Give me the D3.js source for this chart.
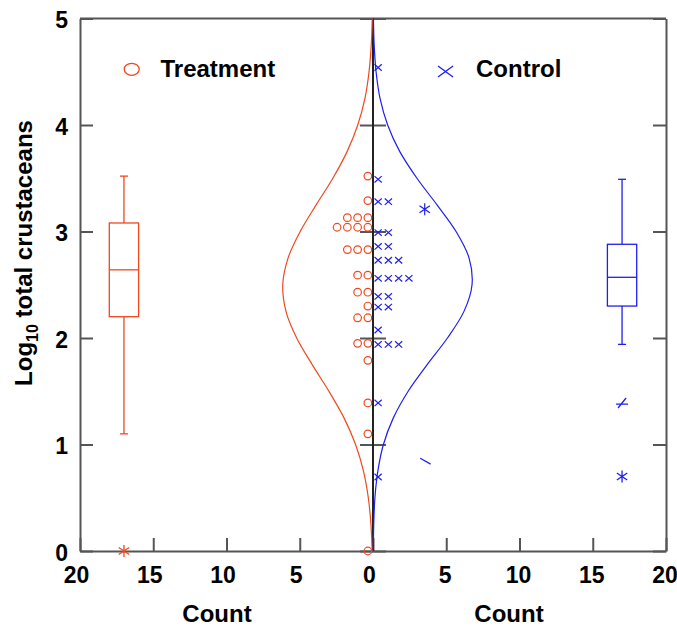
<!DOCTYPE html>
<html>
<head>
<meta charset="utf-8">
<script src="https://cdn.jsdelivr.net/npm/d3@7"></script>
<style>
  body { margin: 0; background: #fff; }
  svg { display: block; font-family: "Liberation Sans", Arial, sans-serif; font-weight: bold; }
</style>
</head>
<body>
<div id="chart"></div>
<script>

/* Data */
/* ==== */

// dot rows: log10 value and number of samples in that row
var treatmentValues = [3.52, 3.29, 3.13, 3.04, 2.83, 2.59, 2.43, 2.30, 2.19, 1.95, 1.79, 1.39, 1.10, 0];
var treatmentCounts = [1, 1, 3, 4, 3, 2, 2, 1, 2, 2, 1, 1, 1, 1];

var controlValues = [4.54, 3.49, 3.28, 2.99, 2.86, 2.73, 2.56, 2.39, 2.29, 2.075, 1.94, 1.39, 0.695];
var controlCounts = [1, 1, 2, 2, 2, 3, 4, 2, 2, 1, 3, 1, 1];

// fitted curves (count at each level)
var curveLevels    = [0, 0.25, 0.5, 0.75, 1, 1.25, 1.5, 1.75, 2, 2.25, 2.5, 2.75, 3, 3.25, 3.5, 3.75, 4, 4.25, 4.5, 4.75, 5];
var treatmentCurve = [0.06, 0.14, 0.32, 0.65, 1.19, 1.98, 3.01, 4.15, 5.21, 5.94, 6.16, 5.80, 4.97, 3.88, 2.74, 1.77, 1.04, 0.55, 0.27, 0.12, 0.05];
var controlCurve   = [0.02, 0.05, 0.13, 0.33, 0.71, 1.39, 2.40, 3.70, 5.08, 6.21, 6.76, 6.56, 5.67, 4.37, 3.00, 1.83, 1.00, 0.48, 0.21, 0.08, 0.03];

// box plots: [low whisker, q1, median, q3, high whisker]
var treatmentBox = [1.10, 2.20, 2.64, 3.08, 3.52];
var controlBox   = [1.94, 2.30, 2.57, 2.88, 3.49];
var treatmentOutliers = [0];
var controlOutliers   = [1.38, 0.70];

// stray marks on the control side: [count, value]
var strayStar = [3.53, 3.21];
var strayDash = [3.58, 0.843];

var leftTicks  = [20, 15, 10, 5, 0];
var rightTicks = [5, 10, 15, 20];
var yTicks     = [0, 1, 2, 3, 4, 5];


/* Set-up */
/* ====== */

var width = 677,
    height = 630,
    plotLeft = 80,
    plotRight = 666,
    plotTop = 18.5,
    plotBottom = 551,
    mid = (plotLeft + plotRight) / 2;

var red = '#f0481e',
    blue = '#1e1ef0',
    frameColour = '#555';

var boxAt = 17,       // count position of the box plots
    boxHalf = 1,      // half box width in counts
    dotStart = 0.35,  // first marker offset in counts
    dotStep = 0.7;    // spacing between markers in counts

var svg = d3.select('#chart').append('svg')
    .attr('width', width)
    .attr('height', height);

var xLeft = d3.scaleLinear().domain([0, 20]).range([mid, plotLeft]);
var xRight = d3.scaleLinear().domain([0, 20]).range([mid, plotRight]);
var y = d3.scaleLinear().domain([0, 5]).range([plotBottom, plotTop]);

var starPath = 'M0,-6V6M-5.2,-3.5L5.2,3.5M-5.2,3.5L5.2,-3.5';
var crossPath = 'M-3.6,-3.2L3.6,3.2M-3.6,3.2L3.6,-3.2';


/* Frame and axes */
/* ============== */

svg.append('line')
    .attr('x1', plotLeft).attr('x2', plotRight)
    .attr('y1', plotTop).attr('y2', plotTop)
    .attr('stroke', frameColour).attr('stroke-width', 2);

function styleAxis(g) {
  g.selectAll('path, line').attr('stroke', frameColour).attr('stroke-width', 2);
  g.selectAll('text')
    .attr('fill', '#000')
    .style('font-size', '23px')
    .style('font-weight', 'bold')
    .style('font-family', '"Liberation Sans", Arial, sans-serif');
}

var xAxisLeft = svg.append('g')
    .attr('transform', 'translate(0,' + plotBottom + ')')
    .call(d3.axisBottom(xLeft).tickValues(leftTicks).tickSizeInner(-13).tickSizeOuter(0).tickPadding(16))
    .call(styleAxis);
xAxisLeft.selectAll('text').attr('dx', -4);

var xAxisRight = svg.append('g')
    .attr('transform', 'translate(0,' + plotBottom + ')')
    .call(d3.axisBottom(xRight).tickValues(rightTicks).tickSizeInner(-13).tickSizeOuter(0).tickPadding(16))
    .call(styleAxis);
xAxisRight.selectAll('text').attr('dx', -1.5);

var yAxis = svg.append('g')
    .attr('transform', 'translate(' + plotLeft + ',0)')
    .call(d3.axisLeft(y).tickValues(yTicks).tickFormat(d3.format('d')).tickSizeInner(-13).tickSizeOuter(0).tickPadding(12))
    .call(styleAxis);
yAxis.selectAll('text').attr('dy', '0.4em');

svg.append('g')
    .attr('transform', 'translate(' + plotRight + ',0)')
    .call(d3.axisRight(y).tickValues(yTicks).tickFormat('').tickSizeInner(-13).tickSizeOuter(0))
    .call(styleAxis);

// centre line with ticks on both sides
var centre = svg.append('g').attr('transform', 'translate(' + mid + ',0)');
centre.append('g')
    .call(d3.axisLeft(y).tickValues(yTicks).tickFormat('').tickSizeInner(13).tickSizeOuter(0))
    .call(styleAxis);
centre.append('g')
    .call(d3.axisRight(y).tickValues(yTicks).tickFormat('').tickSizeInner(13).tickSizeOuter(0))
    .call(styleAxis);
centre.selectAll('.domain').remove();

svg.append('line')
    .attr('x1', mid).attr('x2', mid)
    .attr('y1', plotTop).attr('y2', plotBottom)
    .attr('stroke', '#222').attr('stroke-width', 2);


/* Fitted curves */
/* ============= */

var leftLine = d3.line()
    .x(function(d, i) { return xLeft(treatmentCurve[i]); })
    .y(function(d) { return y(d); })
    .curve(d3.curveCatmullRom);

var rightLine = d3.line()
    .x(function(d, i) { return xRight(controlCurve[i]); })
    .y(function(d) { return y(d); })
    .curve(d3.curveCatmullRom);

svg.append('path')
    .attr('d', leftLine(curveLevels))
    .attr('fill', 'none').attr('stroke', red).attr('stroke-width', 1.2);

svg.append('path')
    .attr('d', rightLine(curveLevels))
    .attr('fill', 'none').attr('stroke', blue).attr('stroke-width', 1.2);


/* Dot rows */
/* ======== */

var treatmentDots = [];
treatmentValues.forEach(function(v, i) {
  for (var j = 0; j < treatmentCounts[i]; j++) treatmentDots.push([dotStart + j * dotStep, v]);
});

var controlDots = [];
controlValues.forEach(function(v, i) {
  for (var j = 0; j < controlCounts[i]; j++) controlDots.push([dotStart + j * dotStep, v]);
});

svg.append('g').selectAll('circle')
    .data(treatmentDots)
    .enter().append('circle')
      .attr('cx', function(d) { return xLeft(d[0]); })
      .attr('cy', function(d) { return y(d[1]); })
      .attr('r', 3.8)
      .attr('fill', 'none')
      .attr('stroke', red)
      .attr('stroke-width', 1.2);

svg.append('g').selectAll('path')
    .data(controlDots)
    .enter().append('path')
      .attr('transform', function(d) { return 'translate(' + xRight(d[0]) + ',' + y(d[1]) + ')'; })
      .attr('d', crossPath)
      .attr('fill', 'none')
      .attr('stroke', blue)
      .attr('stroke-width', 1.2);

svg.append('path')
    .attr('transform', 'translate(' + xRight(strayStar[0]) + ',' + y(strayStar[1]) + ')')
    .attr('d', starPath)
    .attr('fill', 'none').attr('stroke', blue).attr('stroke-width', 1.2);

svg.append('path')
    .attr('transform', 'translate(' + xRight(strayDash[0]) + ',' + y(strayDash[1]) + ')')
    .attr('d', 'M-5.2,-2.9L5.2,2.9')
    .attr('fill', 'none').attr('stroke', blue).attr('stroke-width', 1.2);


/* Box plots */
/* ========= */

function boxPlot(x, stats, colour) {
  var g = svg.append('g')
      .attr('fill', 'none')
      .attr('stroke', colour)
      .attr('stroke-width', 1.3);
  var cx = x(boxAt),
      x0 = Math.min(x(boxAt - boxHalf), x(boxAt + boxHalf)),
      x1 = Math.max(x(boxAt - boxHalf), x(boxAt + boxHalf));

  g.append('line').attr('x1', cx).attr('x2', cx).attr('y1', y(stats[0])).attr('y2', y(stats[1]));
  g.append('line').attr('x1', cx).attr('x2', cx).attr('y1', y(stats[3])).attr('y2', y(stats[4]));
  g.append('line').attr('x1', cx - 4).attr('x2', cx + 4).attr('y1', y(stats[0])).attr('y2', y(stats[0]));
  g.append('line').attr('x1', cx - 4).attr('x2', cx + 4).attr('y1', y(stats[4])).attr('y2', y(stats[4]));
  g.append('rect')
      .attr('x', x0).attr('width', x1 - x0)
      .attr('y', y(stats[3])).attr('height', y(stats[1]) - y(stats[3]));
  g.append('line').attr('x1', x0).attr('x2', x1).attr('y1', y(stats[2])).attr('y2', y(stats[2]));
  return g;
}

var tBox = boxPlot(xLeft, treatmentBox, red);
tBox.selectAll('.out')
    .data(treatmentOutliers)
    .enter().append('path')
      .attr('transform', function(d) { return 'translate(' + xLeft(boxAt) + ',' + y(d) + ')'; })
      .attr('d', starPath);

var cBox = boxPlot(xRight, controlBox, blue);
cBox.selectAll('.out')
    .data(controlOutliers)
    .enter().append('path')
      .attr('transform', function(d) { return 'translate(' + xRight(boxAt) + ',' + y(d) + ')'; })
      .attr('d', function(d, i) { return i === 0 ? 'M-6,0H6M4,-6L-4,4' : starPath; });


/* Legend and titles */
/* ================= */

svg.append('ellipse')
    .attr('cx', 131.7).attr('cy', 69.3).attr('rx', 7.5).attr('ry', 6)
    .attr('fill', 'none').attr('stroke', red).attr('stroke-width', 1.3);
svg.append('text')
    .attr('x', 160.5).attr('y', 77)
    .style('font-size', '24px')
    .text('Treatment');

svg.append('path')
    .attr('transform', 'translate(445.5,71.5)')
    .attr('d', 'M-7.5,-5.5L7.5,5.5M-7.5,5.5L7.5,-5.5')
    .attr('fill', 'none').attr('stroke', blue).attr('stroke-width', 1.3);
svg.append('text')
    .attr('x', 476).attr('y', 77)
    .style('font-size', '24px')
    .text('Control');

svg.append('text')
    .attr('x', 217).attr('y', 622)
    .attr('text-anchor', 'middle')
    .style('font-size', '24px')
    .text('Count');

svg.append('text')
    .attr('x', 509).attr('y', 622)
    .attr('text-anchor', 'middle')
    .style('font-size', '24px')
    .text('Count');

var yTitle = svg.append('text')
    .attr('transform', 'translate(31.5,253) rotate(-90)')
    .attr('text-anchor', 'middle')
    .style('font-size', '24px');
yTitle.append('tspan').text('Log');
yTitle.append('tspan').attr('dy', 6).style('font-size', '16px').text('10');
yTitle.append('tspan').attr('dy', -6).text(' total crustaceans');

</script>
</body>
</html>
